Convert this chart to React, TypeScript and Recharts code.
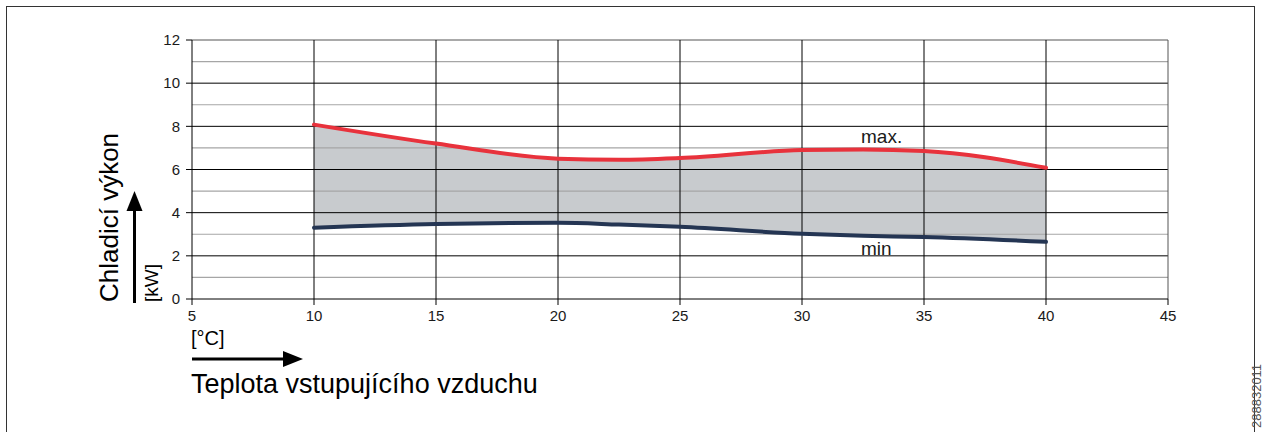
import type { ReactElement } from 'react'
import { Area, ComposedChart, Line, ReferenceLine, XAxis, YAxis } from 'recharts'

// inlet air temperature [°C]
const temps = [10, 15, 20, 22.5, 25, 30, 32.5, 35, 40]
// cooling capacity [kW]
const maxKw = [8.08, 7.2, 6.5, 6.45, 6.53, 6.9, 6.93, 6.86, 6.08]
const minKw = [3.3, 3.47, 3.53, 3.45, 3.35, 3.02, 2.93, 2.87, 2.65]

const xTicks = [5, 10, 15, 20, 25, 30, 35, 40, 45]
const yTicks = [0, 2, 4, 6, 8, 10, 12]
const yMinor = [1, 3, 5, 7, 9, 11]

const W = 1265
const H = 432
const FONT = '"Liberation Sans", Arial, sans-serif'
const RED = '#e8323c'
const NAVY = '#243553'
const FILL = '#c8cbce'

const data = temps.map((t, i) => ({ t, max: maxKw[i], min: minKw[i], band: [minKw[i], maxKw[i]] }))

export default function App(): ReactElement {
  return (
    <div style={{ position: 'absolute', left: 0, top: 0, width: W, height: H, background: '#fff', fontFamily: FONT }}>
      <ComposedChart width={W} height={H} data={data} margin={{ top: 40, right: 97, left: 0, bottom: 0 }}>
        <XAxis
          dataKey="t"
          type="number"
          domain={[5, 45]}
          ticks={xTicks}
          height={133}
          stroke="#000"
          tickSize={6}
          tickMargin={5}
          tick={{ fill: '#1a1a1a', fontSize: 15, fontFamily: FONT }}
        />
        <YAxis
          type="number"
          domain={[0, 12]}
          ticks={yTicks}
          width={192}
          stroke="#000"
          tickSize={6}
          tickMargin={6}
          tick={{ fill: '#1a1a1a', fontSize: 15, fontFamily: FONT }}
        />
        <Area
          dataKey="band"
          type="monotone"
          fill={FILL}
          fillOpacity={1}
          stroke="none"
          isAnimationActive={false}
        />
        {yMinor.map((v) => (
          <ReferenceLine key={`m${v}`} y={v} stroke="#a6a6a6" strokeWidth={1.2} />
        ))}
        {yTicks.slice(1).map((v) => (
          <ReferenceLine key={`y${v}`} y={v} stroke={v === 12 ? '#555' : '#000'} strokeWidth={1} />
        ))}
        {xTicks.slice(1).map((v) => (
          <ReferenceLine key={`x${v}`} x={v} stroke={v === 45 ? '#555' : '#000'} strokeWidth={1} />
        ))}
        <Line dataKey="max" type="monotone" stroke={RED} strokeWidth={4} dot={false} strokeLinecap="round" isAnimationActive={false} />
        <Line dataKey="min" type="monotone" stroke={NAVY} strokeWidth={4} dot={false} strokeLinecap="round" isAnimationActive={false} />
      </ComposedChart>
      <svg width={W} height={H} style={{ position: 'absolute', left: 0, top: 0, pointerEvents: 'none' }}>
        <rect x={6.5} y={6.5} width={1248} height={440} fill="none" stroke="#333" strokeWidth={1} />
        <text x={861} y={143} fontSize={19} fontFamily={FONT} fill="#1a1a1a">max.</text>
        <text x={861} y={255} fontSize={19} fontFamily={FONT} fill="#1a1a1a">min</text>
        {/* y axis title + arrow */}
        <text transform="translate(118,302) rotate(-90)" fontSize={26} fontFamily={FONT} fill="#000">Chladicí výkon</text>
        <text transform="translate(158,302) rotate(-90)" fontSize={19} fontFamily={FONT} fill="#000">[kW]</text>
        <line x1={134.5} y1={303} x2={134.5} y2={209} stroke="#000" strokeWidth={3} />
        <polygon points="126.5,211 142.5,211 134.5,191" fill="#000" />
        {/* x axis title + arrow */}
        <text x={191} y={345} fontSize={20} fontFamily={FONT} fill="#000">[°C]</text>
        <line x1={192} y1={359} x2={285} y2={359} stroke="#000" strokeWidth={3} />
        <polygon points="283,351 283,367 303,359" fill="#000" />
        <text x={191} y={393} fontSize={27} fontFamily={FONT} fill="#000">Teplota vstupujícího vzduchu</text>
        <text transform="translate(1261,428) rotate(-90)" fontSize={13} fontFamily={FONT} fill="#555">288832011</text>
      </svg>
    </div>
  )
}
